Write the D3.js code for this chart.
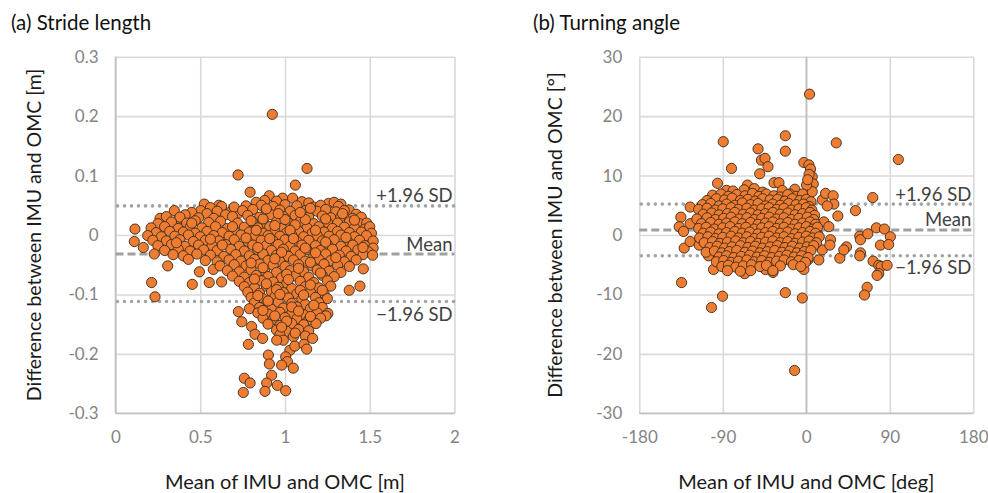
<!DOCTYPE html>
<html>
<head>
<meta charset="utf-8">
<script src="https://cdn.jsdelivr.net/npm/d3@7"></script>
<style>
  body { margin: 0; background: #fff; }
  svg { display: block; font-family: Lato, "Open Sans", sans-serif; }
</style>
</head>
<body>
<svg id="chart" width="988" height="493"></svg>
<script>
// ---- Panel (a): stride length Bland–Altman data ----
const strideTitle = "(a) Stride length";
const strideXLabel = "Mean of IMU and OMC [m]";
const strideYLabel = "Difference between IMU and OMC [m]";
const strideXTicks = [0, 0.5, 1, 1.5, 2];
const strideYTicks = [-0.3, -0.2, -0.1, 0, 0.1, 0.2, 0.3];
// mean difference, +1.96 SD, -1.96 SD
const strideLimits = [-0.032, 0.049, -0.112];

// [mean of IMU and OMC, difference]
const stridePoints = [
  [0.925,0.203],[0.723,0.101],[1.130,0.112],[1.061,0.084],[0.794,0.072],
  [0.907,0.066],[0.986,0.062],[1.045,0.062],[0.88,0.058],[0.95,0.057],[1.10,0.056],[1.14,0.054],[0.83,0.055],[0.524,0.052],[1.256,0.053],[1.29,0.055],[1.33,0.052],[0.61,0.050],
  [0.503,0.041],[0.626,0.048],[0.675,0.038],[0.725,0.037],[0.347,0.041],[0.263,0.028],[0.371,0.026],
  [0.56,0.046],[0.70,0.047],[0.77,0.049],[0.86,0.050],[0.93,0.048],[1.00,0.051],[1.07,0.049],[1.17,0.047],[1.21,0.050],[1.315,0.048],[1.379,0.042],[0.45,0.038],[0.41,0.034],
  [0.54,0.036],[0.60,0.040],[0.65,0.034],[0.75,0.041],[0.81,0.043],[0.89,0.041],[0.97,0.042],[1.03,0.040],[1.12,0.041],[1.19,0.040],[1.24,0.043],[1.30,0.039],[1.35,0.041],[1.42,0.035],
  [0.30,0.031],[0.38,0.030],[0.49,0.029],[0.58,0.028],[0.69,0.031],[0.78,0.033],[0.85,0.030],[0.92,0.034],[0.99,0.031],[1.06,0.033],[1.14,0.030],[1.22,0.032],[1.27,0.029],[1.33,0.031],[1.40,0.028],[1.45,0.030],
  [0.25,0.019],[0.33,0.022],[0.42,0.020],[0.47,0.024],[0.55,0.021],[0.62,0.023],[0.72,0.020],[0.81,0.022],[0.88,0.019],[0.95,0.022],[1.02,0.020],[1.09,0.023],[1.17,0.019],[1.25,0.021],[1.31,0.020],[1.38,0.022],[1.44,0.019],[1.482,0.020],
  [0.21,0.012],[0.29,0.014],[0.37,0.011],[0.44,0.013],[0.51,0.012],[0.59,0.014],[0.66,0.011],[0.76,0.013],[0.84,0.012],[0.91,0.014],[0.98,0.011],[1.05,0.013],[1.13,0.012],[1.20,0.014],[1.28,0.011],[1.35,0.013],[1.41,0.012],[1.47,0.010],[1.50,0.014],
  [0.115,0.010],[0.24,0.004],[0.32,0.006],[0.40,0.005],[0.47,0.003],[0.54,0.006],[0.63,0.004],[0.70,0.006],[0.79,0.005],[0.87,0.003],[0.94,0.006],[1.01,0.004],[1.08,0.006],[1.16,0.003],[1.23,0.005],[1.31,0.006],[1.38,0.004],[1.45,0.005],[1.51,0.003],
  [0.19,-0.001],[0.27,-0.003],[0.35,-0.002],[0.43,0.000],[0.50,-0.003],[0.58,-0.001],[0.67,-0.002],[0.74,0.000],[0.82,-0.003],[0.90,-0.001],[0.97,-0.002],[1.04,0.000],[1.11,-0.003],[1.19,-0.001],[1.26,-0.002],[1.33,0.000],[1.41,-0.003],[1.48,-0.001],
  [0.111,-0.011],[0.22,-0.009],[0.30,-0.010],[0.38,-0.008],[0.46,-0.011],[0.53,-0.009],[0.61,-0.010],[0.70,-0.008],[0.78,-0.011],[0.86,-0.009],[0.93,-0.010],[1.00,-0.008],[1.07,-0.011],[1.14,-0.009],[1.22,-0.010],[1.29,-0.008],[1.37,-0.011],[1.44,-0.009],[1.52,-0.010],
  [0.164,-0.021],[0.25,-0.018],[0.33,-0.016],[0.41,-0.019],[0.49,-0.017],[0.57,-0.018],[0.65,-0.016],[0.73,-0.019],[0.81,-0.017],[0.89,-0.018],[0.96,-0.016],[1.03,-0.019],[1.10,-0.017],[1.18,-0.018],[1.25,-0.016],[1.33,-0.019],[1.40,-0.017],[1.47,-0.018],[1.52,-0.022],
  [0.229,-0.032],[0.29,-0.026],[0.37,-0.024],[0.44,-0.027],[0.52,-0.025],[0.60,-0.026],[0.68,-0.024],[0.76,-0.027],[0.84,-0.025],[0.92,-0.026],[0.99,-0.024],[1.06,-0.027],[1.13,-0.025],[1.21,-0.026],[1.28,-0.024],[1.36,-0.027],[1.43,-0.025],[1.49,-0.028],
  [0.34,-0.033],[0.40,-0.035],[0.48,-0.032],[0.56,-0.034],[0.64,-0.036],[0.71,-0.033],[0.79,-0.035],[0.87,-0.032],[0.95,-0.034],[1.02,-0.036],[1.09,-0.033],[1.17,-0.035],[1.24,-0.032],[1.32,-0.034],[1.39,-0.036],[1.46,-0.033],[1.517,-0.034],
  [0.43,-0.041],[0.53,-0.043],[0.60,-0.045],[0.67,-0.042],[0.74,-0.044],[0.82,-0.041],[0.90,-0.043],[0.97,-0.045],[1.05,-0.042],[1.12,-0.044],[1.20,-0.041],[1.27,-0.043],[1.35,-0.045],[1.42,-0.042],
  [0.308,-0.052],[0.577,-0.058],[0.617,-0.052],[0.70,-0.050],[0.77,-0.052],[0.85,-0.049],[0.93,-0.051],[1.00,-0.053],[1.08,-0.050],[1.16,-0.052],[1.23,-0.049],[1.31,-0.051],[1.38,-0.053],[1.462,-0.057],
  [0.495,-0.062],[0.66,-0.060],[0.73,-0.062],[0.80,-0.059],[0.88,-0.061],[0.95,-0.063],[1.03,-0.060],[1.11,-0.062],[1.19,-0.059],[1.26,-0.061],[1.33,-0.063],
  [0.69,-0.069],[0.76,-0.071],[0.83,-0.068],[0.90,-0.070],[0.98,-0.072],[1.06,-0.069],[1.14,-0.071],[1.22,-0.068],[1.29,-0.070],
  [0.213,-0.080],[0.453,-0.083],[0.553,-0.080],[0.626,-0.079],[0.73,-0.078],[0.79,-0.080],[0.86,-0.077],[0.93,-0.079],[1.01,-0.081],[1.09,-0.078],[1.17,-0.080],[1.25,-0.077],[1.442,-0.086],[1.379,-0.093],
  [0.76,-0.087],[0.82,-0.089],[0.89,-0.086],[0.96,-0.088],[1.04,-0.090],[1.12,-0.087],[1.20,-0.089],[1.27,-0.086],
  [0.78,-0.096],[0.85,-0.098],[0.92,-0.095],[0.99,-0.097],[1.07,-0.099],[1.15,-0.096],[1.23,-0.098],
  [0.233,-0.104],[0.80,-0.105],[0.87,-0.107],[0.94,-0.104],[1.02,-0.106],[1.10,-0.108],[1.18,-0.105],[1.25,-0.107],
  [0.82,-0.114],[0.89,-0.116],[0.96,-0.113],[1.04,-0.115],[1.12,-0.117],[1.20,-0.114],
  [0.79,-0.124],[0.85,-0.122],[0.92,-0.125],[0.99,-0.123],[1.07,-0.121],[1.15,-0.124],[1.22,-0.122],[1.253,-0.132],
  [0.725,-0.129],[0.84,-0.131],[0.90,-0.133],[0.97,-0.130],[1.04,-0.132],[1.11,-0.134],[1.19,-0.131],[1.242,-0.136],
  [0.745,-0.146],[0.87,-0.140],[0.93,-0.142],[1.00,-0.139],[1.07,-0.141],[1.14,-0.143],[1.21,-0.140],
  [0.803,-0.154],[0.90,-0.150],[0.97,-0.152],[1.04,-0.149],[1.11,-0.151],[1.183,-0.149],
  [0.823,-0.167],[0.95,-0.160],[1.01,-0.162],[1.08,-0.159],[1.14,-0.161],
  [0.868,-0.174],[0.970,-0.168],[0.99,-0.177],[1.05,-0.171],[1.12,-0.170],[1.163,-0.174],[0.951,-0.177],
  [0.784,-0.184],[1.029,-0.194],[1.058,-0.187],[1.112,-0.184],[1.128,-0.192],[0.902,-0.202],[0.908,-0.217],[1.004,-0.205],[1.014,-0.213],[0.980,-0.219],[1.049,-0.224],
  [0.921,-0.236],[0.892,-0.249],[0.882,-0.263],[0.955,-0.253],[1.004,-0.262],[0.760,-0.241],[0.794,-0.249],[0.754,-0.265],
  // densest part of the cloud
  [0.80,0.024],[0.87,0.027],[0.94,0.016],[1.00,0.026],[1.06,0.017],[1.12,0.026],[1.18,0.008],[1.24,0.027],[0.83,0.008],[0.89,0.044],[0.96,0.036],[1.03,0.008],[1.09,0.038],[1.15,0.045],
  [0.77,-0.005],[0.84,-0.021],[0.91,-0.006],[0.98,-0.029],[1.05,-0.006],[1.12,-0.022],[1.18,-0.030],[1.24,-0.012],
  [0.80,-0.047],[0.87,-0.055],[0.94,-0.040],[1.01,-0.066],[1.08,-0.056],[1.15,-0.046],[1.21,-0.064],
  [0.82,-0.074],[0.89,-0.082],[0.95,-0.092],[1.02,-0.075],[1.09,-0.093],[1.15,-0.084],[1.22,-0.093],
  [0.84,-0.102],[0.90,-0.111],[0.97,-0.100],[1.04,-0.121],[1.11,-0.101],[1.17,-0.118],
  [0.87,-0.127],[0.94,-0.136],[1.01,-0.145],[1.08,-0.128],[1.15,-0.137],[0.98,-0.155],[1.06,-0.165],
  [0.63,-0.017],[0.56,-0.007],[0.69,0.014],[0.45,0.020],[0.36,-0.013],[1.36,-0.004],[1.41,0.025],[1.46,-0.021],[1.30,-0.038],[1.34,0.036]
];

// ---- Panel (b): turning angle Bland–Altman data ----
const angleTitle = "(b) Turning angle";
const angleXLabel = "Mean of IMU and OMC [deg]";
const angleYLabel = "Difference between IMU and OMC [°]";
const angleXTicks = [-180, -90, 0, 90, 180];
const angleYTicks = [-30, -20, -10, 0, 10, 20, 30];
const angleLimits = [0.84, 5.2, -3.5];

const anglePoints = [
  [3.5,23.7],[-12.6,-22.8],[99.2,12.7],[32.3,15.5],[-89.5,15.7],[-22.6,16.7],[-22.6,14.1],[-52.0,14.5],[-48.4,12.6],[-44.5,12.9],[-41.3,11.5],[-50.2,10.3],[-80.6,11.2],[-95.7,8.7],
  [-2.6,12.2],[2.8,11.8],[4.6,11.1],[6.4,9.8],[7.5,8.6],[6.4,7.3],[0.3,8.4],[-12.3,7.7],[-34.8,8.8],[-29.5,8.8],[-63.4,8.4],[-67.1,7.6],[-86,7.5],[-90.3,5.6],[3.0,10.2],[1.5,9.3],
  [17.2,5.9],[20.8,7.0],[29.0,6.6],[29.7,5.2],[22.6,4.9],[34.0,3.2],[19.0,2.2],[24.3,1.4],[26.1,-0.8],[17.2,-2.5],[25.4,-1.7],[11.8,0.3],[13.5,-4.2],[-2.6,-5.8],[36.1,-3.9],[43.3,-2.0],[40.4,-2.5],[53.0,4.1],[71.6,6.3],
  [57.6,-0.2],[58.4,-0.8],[66.3,0.2],[75.6,1.2],[84.2,1.0],[90.6,-0.3],[79.9,-1.7],[88.8,-1.6],[58.4,-3.0],[57.6,-3.5],[72.0,-4.4],[78.1,-5.1],[80.6,-5.3],[78.1,-6.5],[76.3,-6.8],[87.1,-5.1],[65.6,-8.8],[62.7,-10.1],
  [-135.2,3.0],[-125.2,4.7],[-125.2,1.9],[-137.0,1.4],[-132.3,0.6],[-131.6,-2.2],[-125.2,-1.1],[-115.5,-1.7],[-111.8,3.4],[-113.7,0.8],[-105.4,-3.5],[-100.0,-5.8],[-134.4,-8.0],[-102.2,-12.2],[-90.3,-10.3],[-66.3,-6.5],[-44.1,-5.8],[-35.9,-6.3],[-22.6,-9.7],[-4.3,-10.6],[1.7,-4.2],
  [-79,7.4],[-56,7.8],[-47,7.2],[-26,7.5],[-18,6.9],
  [-101,6.7],[-92,6.9],[-84,6.5],[-75,6.8],[-66,6.6],[-58,7.0],[-51,6.5],[-43,6.9],[-35,6.6],[-28,6.4],[-20,6.8],[-11,6.5],[-4,6.9],
  [-107,5.8],[-97,6.1],[-88,5.9],[-80,6.2],[-71,5.8],[-63,6.0],[-55,5.7],[-47,6.1],[-39,5.9],[-31,6.0],[-23,5.7],[-15,6.1],[-7,5.8],[0,6.0],[5,5.6],
  [-112,5.1],[-103,5.3],[-94,4.9],[-86,5.2],[-77,5.0],[-69,5.4],[-60,5.1],[-52,5.3],[-44,4.9],[-36,5.2],[-28,5.0],[-19,5.3],[-11,5.1],[-3,5.2],[3,4.8],
  [-116,4.3],[-107,4.5],[-98,4.2],[-90,4.4],[-81,4.6],[-73,4.3],[-64,4.5],[-56,4.2],[-48,4.4],[-40,4.6],[-32,4.3],[-24,4.5],[-16,4.2],[-8,4.4],[0,4.6],[6,4.2],
  [-111,3.5],[-102,3.7],[-94,3.4],[-85,3.6],[-77,3.8],[-68,3.5],[-60,3.7],[-52,3.4],[-44,3.6],[-36,3.8],[-28,3.5],[-20,3.7],[-12,3.4],[-4,3.6],[4,3.8],[9,3.3],
  [-118,2.7],[-107,2.9],[-98,2.6],[-89,2.8],[-81,3.0],[-72,2.7],[-64,2.9],[-56,2.6],[-48,2.8],[-40,3.0],[-32,2.7],[-24,2.9],[-16,2.6],[-8,2.8],[1,3.0],[8,2.6],
  [-113,1.9],[-103,2.1],[-94,1.8],[-86,2.0],[-77,2.2],[-69,1.9],[-60,2.1],[-52,1.8],[-44,2.0],[-36,2.2],[-28,1.9],[-20,2.1],[-12,1.8],[-4,2.0],[4,2.2],[10,1.8],
  [-116,1.1],[-108,1.3],[-99,1.0],[-90,1.2],[-82,1.4],[-73,1.1],[-65,1.3],[-56,1.0],[-48,1.2],[-40,1.4],[-32,1.1],[-24,1.3],[-16,1.0],[-8,1.2],[0,1.4],[7,1.0],[12,1.3],
  [-111,0.3],[-103,0.5],[-94,0.2],[-86,0.4],[-77,0.6],[-69,0.3],[-61,0.5],[-52,0.2],[-44,0.4],[-36,0.6],[-28,0.3],[-20,0.5],[-12,0.2],[-4,0.4],[4,0.6],[10,0.3],
  [-115,-0.5],[-106,-0.3],[-98,-0.6],[-90,-0.4],[-81,-0.2],[-73,-0.5],[-64,-0.3],[-56,-0.6],[-48,-0.4],[-40,-0.2],[-32,-0.5],[-24,-0.3],[-16,-0.6],[-8,-0.4],[0,-0.2],[7,-0.5],[14,-0.3],
  [-110,-1.3],[-101,-1.1],[-93,-1.4],[-85,-1.2],[-76,-1.0],[-68,-1.3],[-60,-1.1],[-52,-1.4],[-44,-1.2],[-36,-1.0],[-28,-1.3],[-20,-1.1],[-12,-1.4],[-4,-1.2],[3,-1.0],[11,-1.3],
  [-104,-2.1],[-96,-1.9],[-88,-2.2],[-80,-2.0],[-71,-1.8],[-63,-2.1],[-55,-1.9],[-47,-2.2],[-39,-2.0],[-31,-1.8],[-23,-2.1],[-15,-1.9],[-7,-2.2],[1,-2.0],[8,-1.8],
  [-108,-2.9],[-99,-2.7],[-91,-3.0],[-83,-2.8],[-75,-2.6],[-66,-2.9],[-58,-2.7],[-50,-3.0],[-42,-2.8],[-34,-2.6],[-26,-2.9],[-18,-2.7],[-10,-3.0],[-2,-2.8],[5,-2.6],
  [-94,-3.7],[-86,-3.5],[-78,-3.8],[-70,-3.6],[-61,-3.4],[-53,-3.7],[-45,-3.5],[-37,-3.8],[-29,-3.6],[-21,-3.4],[-13,-3.7],[-5,-3.5],[2,-3.8],
  [-97,-4.5],[-89,-4.3],[-81,-4.6],[-73,-4.4],[-64,-4.2],[-56,-4.5],[-48,-4.3],[-40,-4.6],[-32,-4.4],[-24,-4.2],[-16,-4.5],[-8,-4.3],[-1,-4.6],
  [-91,-5.3],[-84,-5.1],[-76,-5.4],[-68,-5.2],[-59,-5.0],[-50,-5.3],[-43,-5.1],[-28,-5.2],[-14,-5.0],[-6,-5.3],
  [-85,-6.0],[-71,-6.1],[-60,-6.0],[-36,-6.0]
];

const limitLabels = ["Mean", "+1.96 SD", "\u22121.96 SD"];

// ---- drawing ----
const svg = d3.select("#chart");
const TOP = 56.7, BOTTOM = 413.3;

function drawPanel(cfg) {
  const x = d3.scaleLinear().domain(cfg.xDomain).range(cfg.xRange);
  const y = d3.scaleLinear().domain(cfg.yDomain).range([BOTTOM, TOP]);
  const g = svg.append("g");
  const [left, right] = cfg.xRange;

  // horizontal gridlines + y tick labels
  const gy = g.append("g")
    .attr("transform", `translate(${left},0)`)
    .call(d3.axisLeft(y).tickValues(cfg.yTicks).tickFormat(d => String(d))
      .tickSize(-(right - left)).tickPadding(17));
  // vertical gridlines + x tick labels
  const gx = g.append("g")
    .attr("transform", `translate(0,${BOTTOM})`)
    .call(d3.axisBottom(x).tickValues(cfg.xTicks).tickFormat(d => String(d))
      .tickSize(-(BOTTOM - TOP)).tickPadding(18));
  [gx, gy].forEach(ax => {
    ax.attr("font-family", null).attr("font-size", null);
    ax.select(".domain").remove();
    ax.selectAll(".tick line").attr("stroke", "#d9d9d9").attr("stroke-width", 1.6);
    ax.selectAll(".tick text").attr("fill", "#848484").style("font-size", "17px");
  });

  // value axis lines (slightly darker)
  g.append("line")
    .attr("x1", x(cfg.vAxisAt)).attr("x2", x(cfg.vAxisAt))
    .attr("y1", TOP).attr("y2", BOTTOM)
    .attr("stroke", "#bfbfbf").attr("stroke-width", 1.6);
  g.append("line")
    .attr("x1", left).attr("x2", right)
    .attr("y1", y(cfg.yDomain[0])).attr("y2", y(cfg.yDomain[0]))
    .attr("stroke", "#bfbfbf").attr("stroke-width", 1.6);

  // limits of agreement
  const [mean, upper, lower] = cfg.limits;
  [upper, lower].forEach(v => {
    g.append("line")
      .attr("x1", left + 2).attr("x2", right)
      .attr("y1", y(v)).attr("y2", y(v))
      .attr("stroke", "#a3a3a3").attr("stroke-width", 3.6)
      .attr("stroke-linecap", "round").attr("stroke-dasharray", "0,7");
  });
  g.append("line")
    .attr("x1", left).attr("x2", right)
    .attr("y1", y(mean)).attr("y2", y(mean))
    .attr("stroke", "#a0a0a0").attr("stroke-width", 2.8)
    .attr("stroke-dasharray", "8,4");

  // scatter points
  g.append("g").selectAll("circle")
    .data(cfg.points)
    .join("circle")
    .attr("cx", d => x(d[0]))
    .attr("cy", d => y(d[1]))
    .attr("r", 5.1)
    .attr("fill", "#ef7d31")
    .attr("stroke", "#3a2a1c")
    .attr("stroke-width", 0.9);

  // limit labels
  cfg.labelY.forEach((yy, i) => {
    g.append("text")
      .attr("x", right - 2).attr("y", yy)
      .attr("text-anchor", "end")
      .attr("fill", "#404040").style("font-size", "18.5px")
      .text(limitLabels[i]);
  });

  // panel title
  g.append("text")
    .attr("x", cfg.titleX).attr("y", 30)
    .attr("fill", "#111").style("font-size", "20.5px")
    .text(cfg.title);

  // axis titles
  g.append("text")
    .attr("x", (left + right) / 2).attr("y", 489)
    .attr("text-anchor", "middle")
    .attr("fill", "#1a1a1a").style("font-size", "20px")
    .text(cfg.xLabel);
  g.append("text")
    .attr("transform", `translate(${cfg.yLabelX},${(TOP + BOTTOM) / 2}) rotate(-90)`)
    .attr("text-anchor", "middle")
    .attr("fill", "#1a1a1a").style("font-size", "19.5px")
    .text(cfg.yLabel);
}

drawPanel({
  xDomain: [0, 2], xRange: [115.5, 454.5], yDomain: [-0.3, 0.3],
  xTicks: strideXTicks, yTicks: strideYTicks, vAxisAt: 0,
  points: stridePoints, limits: strideLimits,
  labelY: [251, 201.5, 321],
  title: strideTitle, titleX: 11, xLabel: strideXLabel, yLabel: strideYLabel, yLabelX: 41
});

drawPanel({
  xDomain: [-180, 180], xRange: [639.3, 973.3], yDomain: [-30, 30],
  xTicks: angleXTicks, yTicks: angleYTicks, vAxisAt: 0,
  points: anglePoints, limits: angleLimits,
  labelY: [226, 201, 273.5],
  title: angleTitle, titleX: 533, xLabel: angleXLabel, yLabel: angleYLabel, yLabelX: 562
});
</script>
</body>
</html>
